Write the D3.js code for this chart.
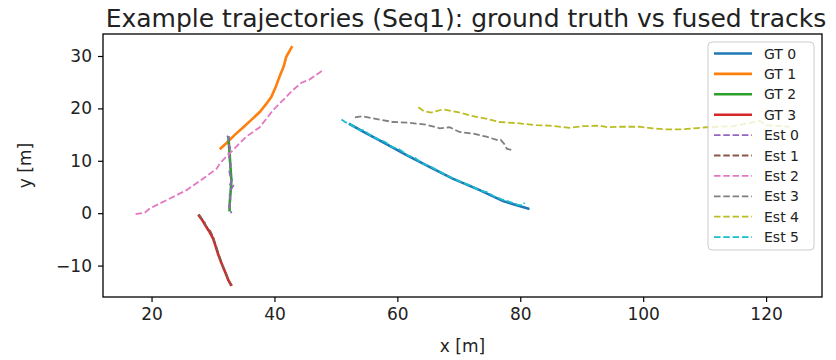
<!DOCTYPE html>
<html>
<head>
<meta charset="utf-8">
<script src="https://cdn.jsdelivr.net/npm/d3@7"></script>
<style>
  body { margin: 0; background: #fff; }
  svg { font-family: "DejaVu Sans", sans-serif; }
</style>
</head>
<body>
<svg width="836" height="360"></svg>
<script>
const xTicks = [20, 40, 60, 80, 100, 120];
const yTicks = [-10, 0, 10, 20, 30];

const gt0 = [[52.1,17.1],[54.5,15.5],[57.1,13.9],[61.5,11.1],[65.3,8.8],[69.0,6.6],[73.4,4.4],[77.2,2.3],[81.5,0.8]];
const gt1 = [[31.1,12.2],[32.2,13.4],[33.5,14.9],[35.2,16.7],[36.5,18.1],[37.6,19.3],[38.7,20.9],[39.5,22.2],[40.2,24.1],[40.9,26.3],[41.5,28.0],[41.9,29.8],[42.9,31.9]];
const gt2 = [[32.5,14.7],[32.6,13.0],[32.7,11.4],[32.8,9.5],[32.9,7.8],[33.0,6.3],[32.9,4.6],[32.8,3.1],[32.7,1.6],[32.7,0.3]];
const gt3 = [[27.6,-0.3],[28.3,-1.4],[28.9,-2.6],[29.5,-3.7],[30.0,-4.8],[30.4,-6.2],[30.8,-7.7],[31.2,-9.0],[31.6,-10.2],[32.1,-11.6],[32.5,-12.8],[33.0,-13.9]];

const est0 = [[32.3,14.8],[32.6,14.2],[32.4,13.4],[32.8,12.5],[32.5,11.6],[32.7,10.4],[32.9,9.2],[32.6,8.3],[32.8,7.2],[33.1,6.4],[32.8,5.5],[33.4,5.4],[32.9,4.5],[32.7,3.4],[32.9,2.3],[32.6,1.3],[32.9,0.4],[33.0,0.0]];
const est1 = [[27.7,-0.2],[28.2,-1.1],[28.6,-1.6],[28.8,-2.4],[29.2,-2.9],[29.6,-3.5],[30.0,-4.5],[30.2,-5.2],[30.5,-6.3],[30.7,-7.0],[31.0,-8.1],[31.3,-9.1],[31.5,-9.8],[31.9,-10.8],[32.2,-11.7],[32.4,-12.4],[32.8,-13.3],[33.1,-13.8]];
const est2 = [[17.4,-0.2],[18.9,0.1],[19.7,0.9],[23.0,2.8],[25.7,4.4],[28.4,6.6],[30.6,8.5],[31.1,9.5],[32.7,11.4],[35.4,14.6],[37.6,16.4],[39.8,19.7],[41.4,21.6],[43.0,23.5],[44.4,24.9],[45.7,25.5],[48.0,27.4]];
const est3 = [[53.1,18.3],[54.4,18.5],[56.0,18.1],[59.3,17.4],[61.5,17.3],[63.1,17.1],[64.7,16.9],[66.9,16.2],[68.5,16.4],[70.1,15.5],[72.3,15.2],[74.5,14.6],[76.4,13.9],[76.8,14.0],[77.4,13.2],[77.8,12.3],[78.8,12.0]];
const est4 = [[63.4,20.2],[64.3,19.5],[65.5,19.2],[67.4,19.8],[69.8,19.3],[72.0,18.6],[74.2,18.1],[76.6,17.4],[79.3,17.2],[82.6,16.8],[84.8,16.7],[88.0,16.3],[90.2,16.6],[92.9,16.7],[94.2,16.4],[96.1,16.5],[99.4,16.5],[101.5,16.2],[103.7,16.0],[106.4,16.0],[110.2,16.4],[114.6,16.6],[116.8,17.1],[119.0,17.6],[120.0,16.8],[123.8,16.5]];
const est5 = [[50.9,17.9],[51.5,17.4],[52.6,16.8],[53.8,15.9],[54.5,15.8],[55.6,14.9],[56.9,14.1],[58.0,13.6],[59.2,12.6],[60.3,12.2],[61.7,11.0],[62.8,10.6],[64.0,9.5],[65.4,8.9],[66.8,8.0],[68.0,7.2],[69.4,6.5],[70.6,5.8],[72.1,5.2],[73.3,4.3],[74.6,4.0],[75.9,3.1],[77.1,2.6],[78.4,2.1],[79.6,1.6],[80.4,1.5],[80.7,2.0]];

const tracks = [
  { name: 'GT 0', pts: gt0, color: '#1f77b4', dashed: false },
  { name: 'GT 1', pts: gt1, color: '#ff7f0e', dashed: false },
  { name: 'GT 2', pts: gt2, color: '#2ca02c', dashed: false },
  { name: 'GT 3', pts: gt3, color: '#d62728', dashed: false },
  { name: 'Est 0', pts: est0, color: '#9467bd', dashed: true },
  { name: 'Est 1', pts: est1, color: '#8c564b', dashed: true },
  { name: 'Est 2', pts: est2, color: '#e377c2', dashed: true },
  { name: 'Est 3', pts: est3, color: '#7f7f7f', dashed: true },
  { name: 'Est 4', pts: est4, color: '#bcbd22', dashed: true },
  { name: 'Est 5', pts: est5, color: '#17becf', dashed: true }
];

const svg = d3.select('svg');
const margin = { top: 34, right: 14, bottom: 63, left: 103 };
const width = +svg.attr('width') - margin.left - margin.right;
const height = +svg.attr('height') - margin.top - margin.bottom;

const x = d3.scaleLinear().domain([12.1, 129.1]).range([0, width]);
const y = d3.scaleLinear().domain([-16.0, 34.2]).range([height, 0]);

const g = svg.append('g')
  .attr('transform', `translate(${margin.left},${margin.top})`);

const line = d3.line().x(d => x(d[0])).y(d => y(d[1]));

g.selectAll('.track')
  .data(tracks)
  .enter()
  .append('path')
  .attr('class', 'track')
  .attr('d', d => line(d.pts))
  .attr('fill', 'none')
  .attr('stroke', d => d.color)
  .attr('stroke-width', d => d.dashed ? 1.8 : 2.6)
  .attr('stroke-dasharray', d => d.dashed ? '6.5,2.8' : null);

// axes
const xAxis = g.append('g')
  .attr('transform', `translate(0,${height})`)
  .call(d3.axisBottom(x).tickValues(xTicks).tickSize(5).tickPadding(6));
const yAxis = g.append('g')
  .call(d3.axisLeft(y).tickValues(yTicks).tickSize(5).tickPadding(6)
    .tickFormat(d => d < 0 ? '\u2212' + Math.abs(d) : d));
[xAxis, yAxis].forEach(a => {
  a.select('.domain').remove();
  a.selectAll('line').attr('stroke', '#000').attr('stroke-width', 1.2);
  a.selectAll('text').attr('font-size', 17).attr('fill', '#222')
    .attr('font-family', '"DejaVu Sans", sans-serif');
});

g.append('rect')
  .attr('width', width).attr('height', height)
  .attr('fill', 'none').attr('stroke', '#000').attr('stroke-width', 1.3);

// labels
svg.append('text')
  .attr('x', margin.left + width / 2).attr('y', 352)
  .attr('text-anchor', 'middle').attr('font-size', 17).attr('fill', '#222')
  .text('x [m]');
svg.append('text')
  .attr('transform', `translate(31,${margin.top + height / 2}) rotate(-90)`)
  .attr('text-anchor', 'middle').attr('font-size', 17).attr('fill', '#222')
  .text('y [m]');
svg.append('text')
  .attr('x', 466).attr('y', 27)
  .attr('text-anchor', 'middle').attr('font-size', 25).attr('fill', '#222')
  .text('Example trajectories (Seq1): ground truth vs fused tracks');

// legend
const lg = g.append('g').attr('transform', `translate(${708 - margin.left},${42 - margin.top})`);
lg.append('rect')
  .attr('width', 106).attr('height', 208).attr('rx', 4)
  .attr('fill', 'rgba(255,255,255,0.8)').attr('stroke', '#ccc').attr('stroke-width', 1);
const row = lg.selectAll('.row')
  .data(tracks)
  .enter()
  .append('g')
  .attr('transform', (d, i) => `translate(0,${11.5 + i * 20.4})`);
row.append('line')
  .attr('x1', 6).attr('x2', 44)
  .attr('stroke', d => d.color)
  .attr('stroke-width', d => d.dashed ? 1.8 : 2.6)
  .attr('stroke-dasharray', d => d.dashed ? '6.5,2.8' : null);
row.append('text')
  .attr('x', 56).attr('dy', '0.36em')
  .attr('font-size', 14).attr('fill', '#222')
  .text(d => d.name);
</script>
</body>
</html>
